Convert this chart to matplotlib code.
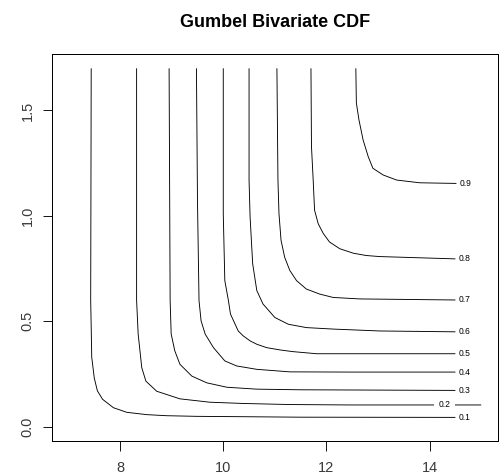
"""
Gumbel Bivariate CDF
====================

Contour lines of the bivariate CDF, traced off the reference picture.
"""

import matplotlib

matplotlib.use("Agg")
import matplotlib.pyplot as plt

plt.rcParams["font.family"] = ["Liberation Sans", "DejaVu Sans"]

levels = ["0.1", "0.2", "0.3", "0.4", "0.5", "0.6", "0.7", "0.8", "0.9"]

x_01 = [7.44, 7.43, 7.44, 7.45, 7.50, 7.56, 7.66, 7.87, 8.13, 8.52, 8.90, 9.48, 10.52, 11.48, 14.50]
y_01 = [1.70, 0.60, 0.47, 0.33, 0.23, 0.17, 0.13, 0.09, 0.068, 0.057, 0.052, 0.049, 0.047, 0.045, 0.044]

x_02 = [8.32, 8.32, 8.35, 8.42, 8.50, 8.71, 9.16, 9.74, 10.39, 11.29, 12.45, 15.00]
y_02 = [1.70, 0.60, 0.44, 0.28, 0.216, 0.168, 0.132, 0.116, 0.110, 0.105, 0.103, 0.103]

x_03 = [8.95, 8.97, 8.99, 9.06, 9.16, 9.39, 9.68, 10.07, 10.65, 11.48, 14.50]
y_03 = [1.70, 0.60, 0.44, 0.36, 0.296, 0.240, 0.208, 0.187, 0.178, 0.175, 0.172]

x_04 = [9.48, 9.50, 9.53, 9.57, 9.65, 9.81, 10.03, 10.26, 10.65, 11.29, 12.45, 14.50]
y_04 = [1.70, 1.075, 0.598, 0.502, 0.439, 0.375, 0.312, 0.288, 0.272, 0.260, 0.259, 0.259]

x_05 = [10.00, 10.00, 10.03, 10.10, 10.14, 10.23, 10.29, 10.39, 10.52, 10.65, 10.84, 11.10, 11.35, 11.81, 14.50]
y_05 = [1.70, 1.011, 0.693, 0.598, 0.534, 0.486, 0.454, 0.430, 0.407, 0.391, 0.375, 0.364, 0.356, 0.346, 0.346]

x_06 = [10.50, 10.50, 10.52, 10.57, 10.65, 10.77, 11.00, 11.26, 11.61, 12.13, 13.03, 14.50]
y_06 = [1.70, 1.170, 0.995, 0.773, 0.646, 0.582, 0.518, 0.486, 0.470, 0.463, 0.454, 0.450]

x_07 = [11.04, 11.06, 11.08, 11.12, 11.19, 11.29, 11.42, 11.61, 11.87, 12.13, 12.65, 14.50]
y_07 = [1.70, 1.170, 1.011, 0.884, 0.804, 0.741, 0.693, 0.653, 0.629, 0.613, 0.606, 0.601]

x_08 = [11.70, 11.71, 11.74, 11.77, 11.84, 11.94, 12.06, 12.26, 12.52, 12.77, 13.03, 14.50]
y_08 = [1.70, 1.329, 1.185, 1.027, 0.963, 0.916, 0.876, 0.844, 0.823, 0.812, 0.807, 0.796]

x_09 = [12.57, 12.58, 12.63, 12.71, 12.81, 12.90, 13.10, 13.36, 13.81, 14.52]
y_09 = [1.70, 1.536, 1.456, 1.361, 1.281, 1.226, 1.194, 1.170, 1.157, 1.154]

x_lines = [x_01, x_02, x_03, x_04, x_05, x_06, x_07, x_08, x_09]
y_lines = [y_01, y_02, y_03, y_04, y_05, y_06, y_07, y_08, y_09]

x_ticks = [8, 10, 12, 14]
y_ticks = [0.0, 0.5, 1.0, 1.5]
y_tick_labels = ["0.0", "0.5", "1.0", "1.5"]

# grid range of the original contour call, padded 4% like R does
X_RANGE = (7.0, 15.0)
Y_RANGE = (0.0, 1.7)


def padded(lo, hi, frac=0.04):
    d = (hi - lo) * frac
    return lo - d, hi + d


fig = plt.figure(figsize=(504 / 72, 476 / 72), dpi=72)
ax = fig.add_axes([52 / 504, 1 - 441 / 476, 445.7 / 504, 387 / 476])

for lev, xs, ys in zip(levels, x_lines, y_lines):
    ax.plot(xs, ys, color="black", linewidth=0.9, solid_capstyle="butt")

    if lev == "0.2":
        # label sits inside the line, with a gap cut round it
        ax.text(
            14.29,
            ys[-1],
            lev,
            fontsize=8.5,
            ha="center",
            va="center",
            zorder=5,
            bbox=dict(facecolor="white", edgecolor="none", pad=4.5),
        )
    else:
        ax.annotate(
            lev,
            xy=(xs[-1], ys[-1]),
            xytext=(3, 0),
            textcoords="offset points",
            fontsize=8.5,
            ha="left",
            va="center",
        )

ax.set_xlim(*padded(*X_RANGE))
ax.set_ylim(*padded(*Y_RANGE))

ax.set_xticks(x_ticks)
ax.set_xticklabels([str(t) for t in x_ticks])
ax.set_yticks(y_ticks)
ax.set_yticklabels(y_tick_labels, rotation=90, va="center")

ax.tick_params(
    direction="out",
    length=9.5,
    width=0.9,
    labelsize=14.5,
    colors="black",
    labelcolor="#3a3a3a",
)
ax.tick_params(axis="x", pad=11)
ax.tick_params(axis="y", pad=8)

for spine in ax.spines.values():
    spine.set_linewidth(1.0)
    spine.set_color("black")

ax.set_title("Gumbel Bivariate CDF", fontsize=18, fontweight="bold", pad=27)

fig.savefig("out.png", dpi=72)
plt.close(fig)
